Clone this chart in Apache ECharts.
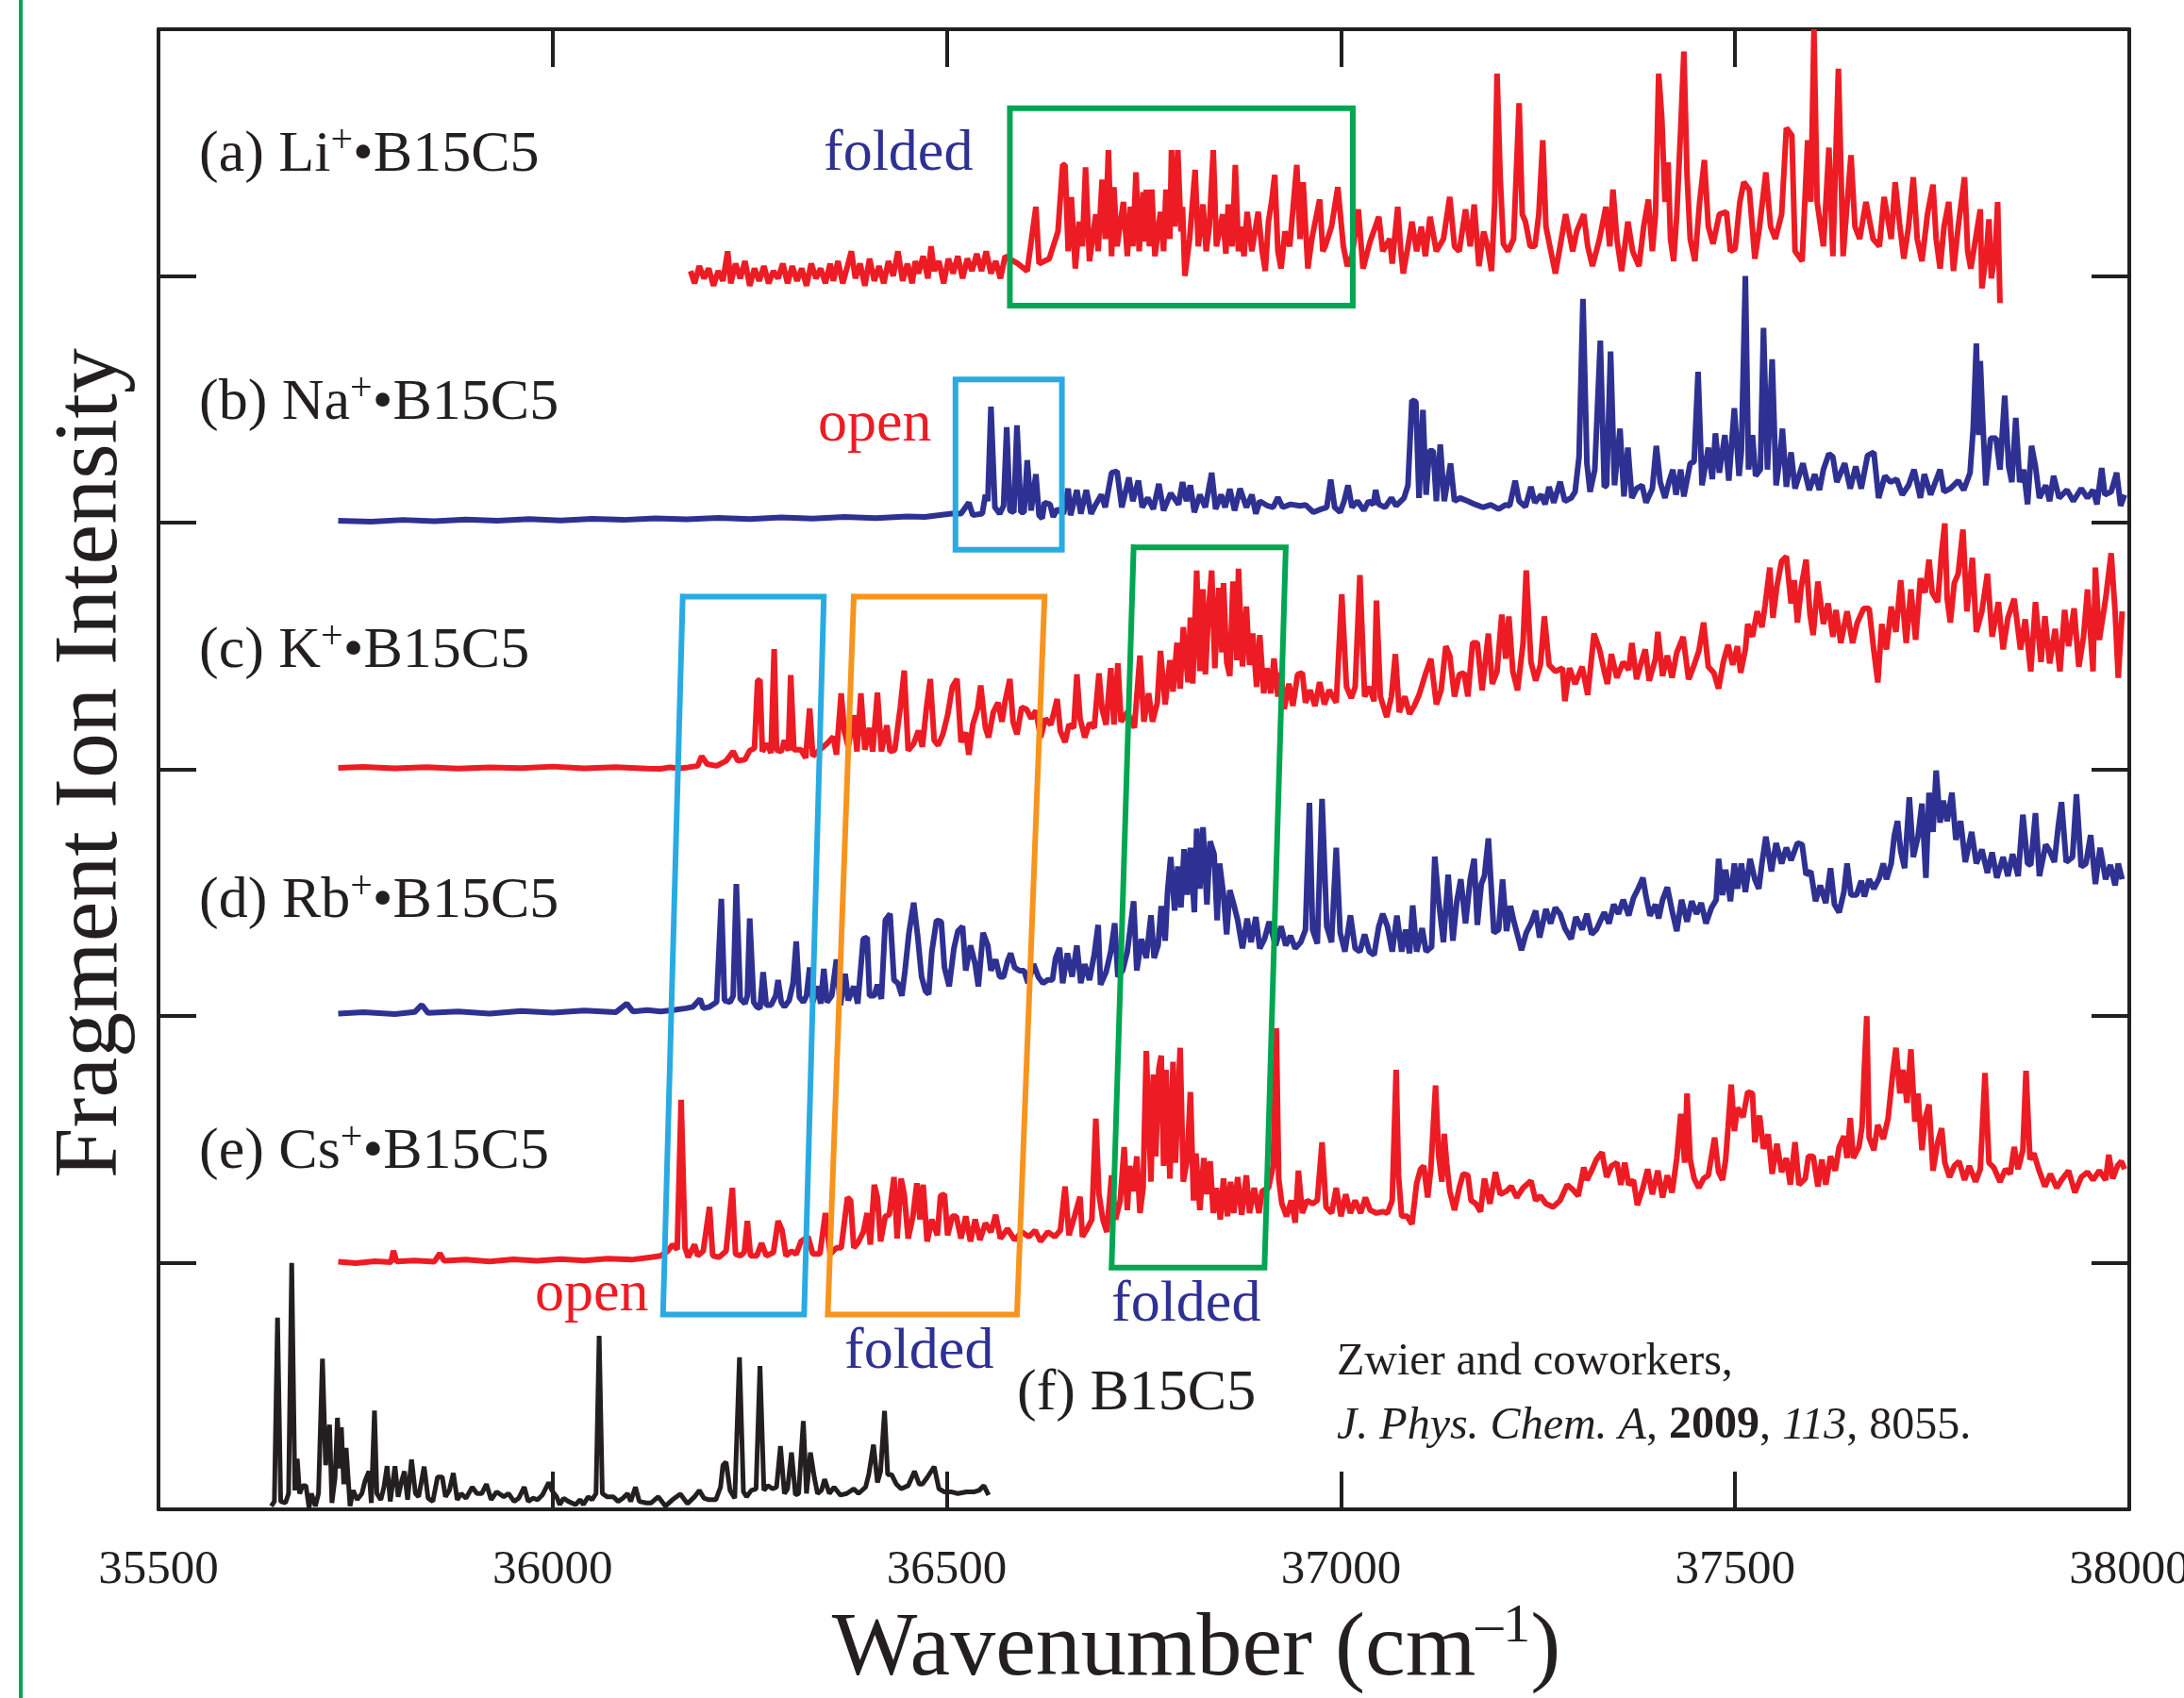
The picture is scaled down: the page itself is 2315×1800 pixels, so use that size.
<!DOCTYPE html>
<html>
<head>
<meta charset="utf-8">
<title>B15C5 fragment ion spectra</title>
<script src="https://cdn.jsdelivr.net/npm/echarts@6/dist/echarts.min.js"></script>
<style>
  html, body { margin: 0; padding: 0; background: #fff; }
  #chart { width: 2315px; height: 1800px; }
</style>
</head>
<body>
<div id="chart"></div>
<script>
// [wavenumber cm-1, intensity]; 100 = one trace spacing
const liTrace = [
  [36175,2],[36180,-3],[36186,4],[36192,-1],[36198,3],[36204,-4],[36210,2],[36216,-2],[36222,10],[36226,-3],[36232,5],[36238,-1],
  [36244,6],[36250,-4],[36256,3],[36262,-2],[36268,4],[36274,-3],[36280,2],[36286,-1],[36292,5],[36298,-3],[36304,4],[36310,-2],
  [36316,3],[36322,-4],[36328,5],[36334,-1],[36340,3],[36346,-3],[36352,5],[36356,-2],[36362,6],[36368,-3],[36374,4],[36379,10],
  [36384,-1],[36390,5],[36396,-4],[36402,7],[36408,-2],[36414,4],[36420,-3],[36426,6],[36432,0],[36438,10],[36444,-2],[36450,5],
  [36456,-3],[36460,6],[36464,1],[36470,8],[36476,-1],[36480,12],[36484,2],[36490,6],[36496,-3],[36502,7],[36508,1],[36514,8],
  [36520,-1],[36526,7],[36532,2],[36538,9],[36544,2],[36550,10],[36556,1],[36562,6],[36568,-1],[36574,8],
  [36590,5],[36602,2],[36613,28],[36617,5],[36630,7],[36641,18],[36647,45],[36650,45],[36654,10],[36658,32],[36663,3],[36668,22],
  [36672,12],[36676,44],[36681,6],[36689,25],[36692,10],[36697,39],[36701,15],[36705,51],[36709,8],[36712,36],[36716,12],[36724,30],
  [36729,8],[36733,28],[36736,12],[36740,42],[36744,10],[36749,34],[36751,14],[36753,35],[36757,12],[36760,35],[36764,8],[36771,26],
  [36775,10],[36778,35],[36783,15],[36785,51],[36789,20],[36793,51],[36797,18],[36799,28],[36802,0],[36808,15],[36815,43],[36819,12],
  [36825,29],[36829,10],[36833,20],[36838,51],[36842,12],[36850,25],[36854,9],[36857,29],[36862,12],[36866,45],[36870,10],[36873,20],
  [36877,8],[36881,26],[36887,10],[36895,26],[36900,10],[36904,2],[36908,22],[36912,30],[36916,41],[36920,10],[36924,3],[36929,18],
  [36935,12],[36944,45],[36948,15],[36952,38],[36958,3],[36963,15],[36973,31],[36977,10],[36980,12],[36988,20],[36996,36],[37003,12],
  [37008,4],[37014,8],[37022,27],[37028,3],[37037,14],[37048,24],[37053,10],[37062,15],[37065,5],[37072,28],[37076,10],[37079,1],
  [37085,12],[37090,22],[37096,10],[37102,20],[37107,8],[37113,24],[37121,10],[37130,15],[37138,32],[37144,12],[37150,10],[37158,27],
  [37164,12],[37169,29],[37175,4],[37181,18],[37186,12],[37191,2],[37195,30],[37198,82],[37202,40],[37206,13],[37212,10],[37219,15],
  [37226,70],[37230,25],[37234,22],[37240,12],[37246,12],[37251,25],[37256,55],[37260,20],[37265,12],[37272,1],[37278,12],[37285,25],
  [37294,10],[37299,18],[37308,25],[37313,12],[37319,4],[37328,15],[37336,28],[37341,12],[37345,35],[37350,15],[37356,2],[37364,22],
  [37370,10],[37378,4],[37384,20],[37390,31],[37395,10],[37399,25],[37403,82],[37407,64],[37411,30],[37415,46],[37418,15],[37422,6],
  [37426,25],[37431,60],[37435,91],[37439,41],[37443,15],[37449,6],[37455,30],[37461,47],[37466,20],[37472,13],[37480,25],[37489,26],
  [37494,10],[37500,11],[37506,30],[37511,38],[37518,35],[37525,7],[37531,20],[37539,42],[37545,20],[37551,15],[37559,25],[37565,60],
  [37572,57],[37576,10],[37585,6],[37592,55],[37596,30],[37600,100],[37604,30],[37612,12],[37619,52],[37624,8],[37631,84],[37637,8],
  [37641,25],[37647,49],[37652,20],[37658,15],[37666,30],[37675,15],[37683,12],[37689,32],[37698,15],[37703,38],[37709,20],[37714,7],
  [37720,20],[37726,40],[37731,15],[37737,6],[37744,25],[37751,37],[37755,15],[37760,3],[37765,20],[37771,30],[37777,2],[37783,20],
  [37791,40],[37795,10],[37799,3],[37805,15],[37811,27],[37813,-5],[37819,10],[37822,23],[37825,-1],[37830,10],[37833,30],[37836,-11]
];

const naTrace = [
  [35728,0.8],[35770,0.4],[35810,1.1],[35850,0.6],[35890,1.2],[35930,0.8],[35970,1.4],[36010,0.9],[36050,1.5],[36090,1.1],
  [36130,1.7],[36170,1.3],[36210,1.9],[36250,1.4],[36290,2.1],[36330,1.6],[36370,2.3],[36410,1.8],[36450,2.5],
  [36472,2.3],[36506,3.6],[36518,3.6],[36528,8.1],[36533,3],[36545,3.6],[36549,11.3],[36552,8.7],[36556,47],[36561,6.2],[36567,3.6],
  [36572,6.8],[36576,38.7],[36580,4.9],[36585,4.2],[36589,39.4],[36594,4.2],[36598,4.2],[36602,25.3],[36607,4.9],[36613,19.6],
  [36617,3],[36621,1.7],[36624,8.1],[36631,7.4],[36635,2.3],[36640,5.5],[36648,3.6],[36654,13.8],[36657,3],[36665,13.2],[36670,3.6],
  [36677,13.2],[36683,3.6],[36689,7.4],[36696,11.3],[36701,6.2],[36709,20.2],[36716,20.8],[36722,6.2],[36731,18.3],[36736,8.7],
  [36743,17],[36748,6.2],[36755,10],[36762,5.5],[36769,15.7],[36775,4.9],[36784,11.9],[36794,7.4],[36799,16.4],[36804,8.7],
  [36809,15.1],[36814,4.2],[36821,11.3],[36828,6.2],[36836,20.2],[36841,5.5],[36848,11.3],[36853,6.2],[36859,13.6],[36865,4.9],
  [36872,13.8],[36880,6.2],[36887,11.3],[36892,3.6],[36897,8.7],[36907,6.8],[36914,6.2],[36920,10.2],[36926,6.2],[36936,7.4],
  [36948,6.8],[36955,7.2],[36965,4.2],[36975,5.5],[36982,6.2],[36987,17.4],[36992,6.2],[36999,4.2],[37004,8.7],[37009,15.1],
  [37014,6.2],[37021,8.7],[37029,4.9],[37035,8.7],[37041,7.4],[37044,13.2],[37048,7.4],[37056,6.2],[37064,10],[37070,6.8],
  [37080,10],[37085,15.1],[37090,49.6],[37095,49],[37099,10],[37104,45.7],[37108,11.3],[37112,29.1],[37117,29.1],[37121,8.7],
  [37126,31.7],[37131,8.7],[37139,24],[37144,8.7],[37151,10],[37161,8.7],[37170,7.4],[37180,6.2],[37190,7.2],[37200,5.5],[37209,7.2],
  [37214,6.8],[37221,17],[37226,8.7],[37234,6.4],[37241,14.5],[37246,8.1],[37254,11.3],[37259,7.4],[37264,14.5],[37270,8.1],
  [37278,16.6],[37284,8.7],[37292,10],[37297,12.5],[37302,26.6],[37307,90.7],[37312,24],[37316,12.5],[37322,21.5],[37329,73.8],
  [37334,14.5],[37337,15.1],[37342,69.4],[37347,15.1],[37354,38.1],[37359,10.6],[37364,30.4],[37369,10],[37375,13.8],[37382,15.1],
  [37387,8.1],[37395,13.8],[37400,31.1],[37405,16.4],[37411,10],[37416,16.4],[37421,21.5],[37425,11.3],[37431,21.5],[37435,10.6],
  [37443,24],[37448,24.7],[37453,61.1],[37458,15.1],[37466,30.4],[37471,17.6],[37475,36.2],[37480,20.2],[37487,35.5],[37492,17],
  [37499,46.4],[37505,18.9],[37508,29.1],[37513,100],[37517,21.5],[37522,35.5],[37526,18.9],[37532,21.5],[37536,78.9],[37541,21.5],
  [37547,66.2],[37552,15.1],[37557,26.6],[37560,38.1],[37565,14.5],[37571,28.5],[37576,13.8],[37586,24],[37594,13.2],[37601,19.6],
  [37607,13.2],[37612,21.5],[37619,27.9],[37624,26.6],[37629,16.4],[37639,24],[37646,13.8],[37653,22.8],[37660,13.8],[37668,27.2],
  [37676,28.5],[37682,10],[37690,18.9],[37697,16.4],[37705,17.6],[37712,11.3],[37720,15.1],[37727,21.5],[37735,10],[37740,19.6],
  [37748,11.3],[37760,21.5],[37765,12.5],[37773,13.8],[37783,17],[37790,13.2],[37798,20.2],[37802,38.1],[37806,72.6],[37809,35.5],
  [37811,65.5],[37814,41.9],[37818,15.1],[37824,34.2],[37831,34.2],[37836,21.5],[37842,51.5],[37847,22.8],[37851,16.4],[37856,42.5],
  [37861,16.4],[37866,21.5],[37871,7.4],[37876,31.1],[37881,22.8],[37886,10],[37894,15.1],[37899,8.7],[37904,18.9],[37911,10],
  [37921,13.2],[37929,8.7],[37939,13.8],[37947,10],[37954,13.2],[37959,7.4],[37965,22.1],[37969,11.3],[37977,12.5],[37984,20.2],
  [37989,6.8],[37994,11.3]
];

const kTrace = [
  [35728,0.6],[35760,1.0],[35800,0.4],[35840,0.9],[35880,0.3],[35920,0.8],[35960,0.5],[36000,1.1],[36040,0.4],[36080,0.9],[36120,0.3],
  [36137,0.2],[36149,0.8],[36161,0.4],[36172,0.8],[36184,1.4],[36189,5.3],[36196,2.1],[36208,1.4],[36220,3.4],[36229,7.2],[36235,3.4],
  [36244,4],[36250,7.6],[36256,8.5],[36260,35.9],[36263,36.2],[36266,7.2],[36272,10.4],[36277,6.6],[36281,48.7],[36284,7.9],[36290,7.2],
  [36294,11.7],[36299,7.6],[36302,38.2],[36306,7.9],[36315,7.9],[36321,4.6],[36326,24.7],[36330,5.3],[36339,7.9],[36348,10.4],
  [36356,13.2],[36360,5.9],[36366,30.8],[36370,15.5],[36375,9.1],[36382,21.9],[36386,7.2],[36391,30.8],[36396,7.9],[36402,16.8],
  [36406,7.2],[36412,31.1],[36417,7.2],[36424,17.8],[36428,7.2],[36434,7.9],[36441,25.1],[36446,40],[36451,7.6],[36458,10.4],
  [36464,15.7],[36469,9.1],[36474,24.4],[36479,36.6],[36484,11.7],[36489,9.7],[36495,14.2],[36501,21.9],[36507,33.4],[36513,36.6],
  [36518,11],[36524,14.9],[36528,5.9],[36533,18.1],[36539,24.4],[36543,34],[36549,16.8],[36553,12.9],[36559,23.2],[36565,27],
  [36570,19.3],[36574,27.6],[36580,36.6],[36584,19.3],[36589,14.2],[36595,25.1],[36601,24.4],[36607,20.6],[36613,23.8],[36619,12.9],
  [36625,20.6],[36632,18.1],[36640,28.5],[36644,15.5],[36650,11],[36655,18.1],[36661,16.8],[36665,38.5],[36669,20.6],[36675,12.9],
  [36681,18.7],[36687,16.8],[36693,38.9],[36697,24.4],[36702,18.1],[36708,41],[36712,18.1],[36717,43],[36721,19.3],[36729,23.2],
  [36738,16.8],[36745,46.1],[36750,19.3],[36756,30.8],[36761,19.3],[36767,27],[36771,48],[36777,26.3],[36783,44.2],[36787,31.5],
  [36792,51.3],[36796,32.7],[36800,57.6],[36806,35.3],[36809,61.5],[36812,34.7],[36817,80.6],[36821,39.8],[36825,73],[36828,38.5],
  [36832,64],[36836,80.6],[36840,41],[36845,73.6],[36849,47.4],[36851,75.5],[36855,43.6],[36859,37.8],[36863,76.2],[36868,44.2],
  [36870,81.3],[36875,41.7],[36880,66],[36884,42.3],[36888,55.1],[36893,33.4],[36897,54.4],[36902,30.8],[36906,41],[36911,30.8],
  [36915,44.9],[36920,29.5],[36924,39.1],[36928,24.4],[36934,34.7],[36939,25.7],[36945,38.5],[36951,39.1],[36955,27],[36961,32.1],
  [36967,25.7],[36973,35.3],[36979,26.3],[36985,32.1],[36994,27],[37001,71],[37007,33.4],[37013,28.9],[37018,33.4],[37024,78.7],
  [37030,29.5],[37036,33.4],[37042,27.6],[37045,68.4],[37050,29.5],[37058,21.2],[37064,29.5],[37069,46.7],[37074,23.1],[37081,29.5],
  [37087,22.5],[37093,25.7],[37099,30.1],[37107,38.4],[37114,44.8],[37121,26.3],[37127,32],[37133,49.9],[37138,46.1],[37144,29.5],
  [37150,38.4],[37156,39.1],[37161,29.5],[37167,51.2],[37173,51.2],[37179,32],[37187,55],[37192,34.6],[37198,39.7],[37204,62.7],
  [37209,44.8],[37213,62],[37218,39.7],[37224,32],[37231,51.2],[37235,80.6],[37241,43.5],[37247,35.9],[37253,42.3],[37258,62],
  [37264,42.3],[37272,39.7],[37281,41],[37284,27.6],[37290,41],[37297,34.6],[37306,41.6],[37313,30.1],[37321,55],[37328,48.6],
  [37334,39.7],[37338,34.6],[37343,46.7],[37350,37.1],[37358,43.5],[37365,40.3],[37369,51.2],[37375,36.5],[37380,42.3],[37386,48.6],
  [37391,35.9],[37399,44.8],[37402,55.7],[37408,37.8],[37414,46.1],[37420,37.1],[37426,47.4],[37434,53.7],[37441,36.5],[37448,42.3],
  [37454,48],[37460,59.5],[37466,41.6],[37473,39.1],[37479,32.7],[37485,43.5],[37491,50.5],[37497,42.3],[37503,49.9],[37507,39.1],
  [37513,48.6],[37516,58.9],[37522,53.7],[37528,64],[37534,57.6],[37538,66.5],[37544,81.8],[37548,61.4],[37553,74.2],[37559,84.4],
  [37565,86.3],[37571,67.2],[37575,76.7],[37579,59.5],[37584,74.2],[37590,85],[37595,62.7],[37599,54.4],[37605,76.1],[37612,58.9],
  [37618,67.2],[37624,53.7],[37628,64.6],[37634,51.2],[37642,64],[37649,51.2],[37655,59.5],[37663,65.2],[37670,65.2],[37676,48],
  [37681,35.2],[37686,58.9],[37692,48.6],[37698,65.9],[37704,55.7],[37710,76.7],[37717,51.2],[37723,72.9],[37729,52.5],[37735,77.4],
  [37741,71.6],[37746,85],[37750,71.6],[37757,67.8],[37762,88.2],[37766,99.7],[37769,69.1],[37773,59.5],[37778,75.5],[37783,79.3],
  [37789,97.2],[37794,64],[37801,85.7],[37806,55.7],[37813,64],[37820,79.3],[37826,53.7],[37834,67.8],[37840,48.6],[37846,61.4],
  [37854,69.1],[37862,48.6],[37868,60.8],[37875,39.7],[37881,67.8],[37888,43.5],[37893,62],[37899,42.9],[37906,56.9],[37912,39.7],
  [37918,64.6],[37923,49.9],[37930,65.2],[37936,41.6],[37942,53.7],[37947,72.9],[37954,39.7],[37957,81.8],[37962,52.5],[37970,69.1],
  [37977,87.6],[37982,64],[37986,37.1],[37991,64]
];

const rbTrace = [
  [35728,1],[35760,1.5],[35800,0.8],[35825,1.6],[35834,4.5],[35842,1.2],[35880,1.8],[35920,1],[35960,2],[36000,1.3],[36040,2.2],
  [36080,1.5],[36094,5],[36102,1.8],[36120,2.4],
  [36137,1.8],[36155,2.5],[36169,3.1],[36178,3.7],[36187,6.9],[36191,3.1],[36199,3.7],[36208,5.6],[36214,47.5],[36218,6.3],[36225,5.6],
  [36229,8.2],[36233,53.5],[36238,6.9],[36244,5],[36247,8.2],[36250,39.5],[36255,5.6],[36259,3.7],[36263,3.1],[36267,17.8],[36271,4.4],
  [36277,4.4],[36283,8.2],[36286,14.6],[36290,5.6],[36294,3.7],[36300,6.3],[36305,13.3],[36309,30.2],[36313,7.6],[36318,5.6],[36322,8.2],
  [36326,19.7],[36330,5.6],[36336,12],[36340,5],[36344,19.1],[36348,5.6],[36354,8.2],[36360,22.9],[36365,4.4],[36371,17.1],[36375,6.3],
  [36382,12],[36387,5],[36394,31.2],[36399,31.8],[36402,8.2],[36408,8.2],[36412,12.7],[36417,6.9],[36422,38.8],[36428,41.4],[36433,14.6],
  [36438,13.3],[36443,8.2],[36447,18.4],[36452,33.7],[36458,45.9],[36463,32.5],[36468,15.9],[36473,10.1],[36477,8.8],[36481,26.1],
  [36487,38.8],[36493,38.2],[36497,19.7],[36503,12],[36509,27.4],[36514,34.4],[36520,36.3],[36524,18.4],[36530,28.6],[36536,21],
  [36540,12],[36546,33.7],[36552,28.6],[36556,18.4],[36562,22.9],[36567,15.9],[36572,15.9],[36577,22.2],[36581,25.4],[36586,19.7],
  [36592,18.4],[36598,18.4],[36603,13.3],[36610,21],[36616,15.9],[36622,13.3],[36628,14.6],[36634,14.6],[36638,23.5],[36643,27.6],
  [36647,13.3],[36653,25.4],[36659,15.9],[36665,28.6],[36670,13.3],[36675,21],[36681,14.6],[36687,24.8],[36692,36.9],[36695,12.7],
  [36702,17.8],[36708,26.1],[36713,37.6],[36717,15.9],[36723,18.4],[36729,26.1],[36737,46.5],[36741,18.4],[36747,31.2],[36753,23.5],
  [36759,40.8],[36763,23.5],[36768,28.6],[36772,44.6],[36777,30.5],[36780,50.3],[36784,64.4],[36789,42.7],[36793,60.6],[36797,44],
  [36801,67.6],[36805,49.1],[36809,68.2],[36814,42],[36817,75.9],[36821,51.6],[36825,76.5],[36830,45.2],[36834,70.8],[36839,65.7],
  [36843,38.8],[36846,61.8],[36851,49.1],[36855,33.1],[36859,51],[36864,45.2],[36869,38.8],[36875,27.4],[36881,39.5],[36886,29.9],
  [36892,40.1],[36897,27.4],[36903,31.2],[36909,38.2],[36917,28.6],[36924,36.3],[36930,28.6],[36936,32.5],[36942,27.4],[36949,29.9],
  [36955,35],[36960,86.4],[36964,35],[36970,29.3],[36976,88],[36982,36.3],[36988,29.9],[36994,68.2],[36999,33.7],[37005,26.1],
  [37012,40.8],[37018,27.4],[37024,26.1],[37030,33.1],[37036,26.1],[37042,24.8],[37048,36.3],[37053,41.4],[37059,36.3],
  [37065,26.1],[37071,40.7],[37077,26.1],[37082,35],[37087,25.4],[37091,44.8],[37096,26.1],[37103,35.6],[37108,26.1],[37115,28],
  [37119,64.6],[37124,46.5],[37130,29.9],[37136,57.3],[37142,30.5],[37147,46.5],[37152,55.4],[37158,37.5],[37164,55.4],[37169,63.7],
  [37173,36.9],[37178,53.5],[37182,56.7],[37187,72],[37194,33.7],[37200,35],[37205,55.4],[37210,34.4],[37215,44.6],[37219,38.8],
  [37229,26.7],[37235,33.7],[37241,37.5],[37247,42.7],[37252,31.8],[37260,43.3],[37266,37.5],[37272,43.9],[37278,41.4],[37284,35.6],
  [37292,31.2],[37298,40.1],[37306,35],[37312,41.4],[37318,33.1],[37324,35],[37334,42],[37340,37.5],[37346,45.2],[37352,41.4],
  [37358,47.1],[37365,40.7],[37371,47.8],[37377,51.6],[37383,56],[37387,48.4],[37392,40.7],[37399,45.2],[37403,39.5],[37408,47.1],
  [37414,52.2],[37420,42.7],[37426,34.4],[37432,47.1],[37439,38.2],[37445,46.5],[37451,41.4],[37457,45.8],[37463,37.5],[37470,43.9],
  [37476,47.1],[37479,63.7],[37484,49],[37488,59.3],[37494,46.5],[37499,61.8],[37503,51.6],[37508,61.8],[37513,50.3],[37519,63.7],
  [37525,55.4],[37530,51.6],[37534,61.8],[37539,72.7],[37546,58.6],[37552,70.1],[37559,61.8],[37565,68.2],[37571,63.1],[37579,70.1],
  [37585,69.5],[37590,57.3],[37596,58.6],[37602,46.5],[37608,52.9],[37615,45.8],[37621,59.9],[37626,45.2],[37632,42],[37638,50.3],
  [37642,61.8],[37647,49],[37654,49],[37660,54.8],[37664,48.4],[37670,55.4],[37676,51.6],[37683,56],[37688,61.8],[37692,55.4],
  [37698,61.8],[37702,73.3],[37706,79],[37710,66.9],[37715,59.9],[37721,88.6],[37726,64.4],[37732,72.7],[37737,86.1],[37742,56],
  [37746,90.5],[37751,74.6],[37755,99.5],[37760,78.4],[37764,87.3],[37769,79],[37775,90.5],[37780,71.4],[37786,79],[37792,62.4],
  [37800,74.6],[37806,61.8],[37813,67.5],[37820,58],[37826,66.3],[37832,56],[37840,64.4],[37846,56.7],[37852,65.6],[37859,56.7],
  [37865,81.6],[37871,61.8],[37875,61.2],[37881,82.2],[37886,56.7],[37894,69.5],[37899,66.9],[37905,62.4],[37910,77.1],[37914,86.7],
  [37920,62.4],[37928,64.4],[37933,89.9],[37939,60.5],[37945,61.8],[37951,73.3],[37957,53.5],[37963,68.2],[37970,55.4],[37976,61.2],
  [37982,52.9],[37986,61.8],[37991,55.4]
];

const csTrace = [
  [35728,0.4],[35750,-0.2],[35775,0.6],[35795,0.2],[35798,4.8],[35802,0.5],[35825,0.9],[35850,0.4],[35857,3.8],[35862,0.8],[35890,1.2],
  [35920,0.5],[35950,1.3],[35980,0.8],[36010,1.4],[36040,0.9],[36070,1.6],[36100,1.2],[36125,2.2],
  [36137,2.8],[36146,4.7],[36152,7.3],[36158,5.4],[36163,66],[36168,6],[36172,2.2],[36180,7.3],[36184,2.8],[36191,4.7],[36199,22.6],
  [36203,2.8],[36211,2.2],[36220,4.7],[36228,30.3],[36232,3.5],[36238,2.8],[36243,4.1],[36247,16.9],[36251,2.8],[36259,2.8],[36265,7.9],
  [36271,2.8],[36280,4.1],[36286,16.9],[36291,13.1],[36296,2.8],[36303,4.7],[36309,3.5],[36315,8.6],[36324,10.5],[36330,3.5],[36339,3.5],
  [36346,20.1],[36352,3.5],[36360,6],[36366,6],[36374,26.4],[36378,25.2],[36382,6],[36387,7.9],[36394,12.4],[36399,20.1],[36403,7.3],
  [36408,31.6],[36412,26.4],[36416,8.6],[36422,18.8],[36427,19.4],[36433,34.7],[36437,9.8],[36442,34.1],[36446,27.7],[36451,9.8],
  [36457,18.8],[36462,32.2],[36466,17.5],[36470,31.6],[36475,8.6],[36481,17.5],[36488,11.1],[36492,27.1],[36497,27.7],[36501,11.1],
  [36507,18.8],[36512,18.8],[36518,9.8],[36524,18.8],[36530,8.6],[36536,17.5],[36542,9.2],[36549,16],[36556,12.4],[36562,19.4],
  [36568,9.8],[36577,13.7],[36586,9.2],[36595,12.4],[36604,10.5],[36612,13.1],[36619,8.6],[36628,12.4],[36637,10.5],[36644,13.1],
  [36650,30.9],[36655,11.1],[36662,18.8],[36669,26.7],[36672,10.5],[36678,13.7],[36684,17.5],[36689,58.4],[36693,27.7],[36698,17.5],
  [36703,12.4],[36709,35.4],[36714,17.5],[36720,25.2],[36725,46.9],[36729,21.3],[36732,39.2],[36737,29],[36741,43.1],[36745,20.1],
  [36749,30.3],[36753,85.8],[36759,32.8],[36762,76.3],[36765,43.1],[36769,78.8],[36772,83.9],[36775,39.2],[36778,78.2],[36783,34.1],
  [36787,81.4],[36790,40.5],[36796,87.1],[36800,32.8],[36805,41.8],[36809,69.2],[36813,25.2],[36816,44.3],[36821,21.3],[36826,42.4],
  [36830,27.7],[36834,41.1],[36838,20.1],[36842,30.3],[36847,17.5],[36851,34.1],[36856,18.8],[36860,32.8],[36864,20.1],[36869,34.7],
  [36874,19.4],[36880,35.4],[36884,20.1],[36890,30.3],[36896,20.1],[36900,29],[36908,30.3],[36914,39.2],[36918,95],[36921,34.1],
  [36925,23.9],[36931,18.8],[36937,25.2],[36942,16.2],[36946,37.3],[36951,20.1],[36957,25.2],[36964,23.9],[36970,25.2],[36976,48.8],
  [36981,22.6],[36988,20.1],[36994,30.3],[37000,18.8],[37006,27.7],[37012,20.1],[37018,25.2],[37025,20.1],[37031,26.4],[37037,21.3],
  [37045,20.1],[37053,20.7],[37059,20.1],[37065,25.2],[37070,78.2],[37073,35.4],[37077,18.8],[37084,18.8],[37090,15.6],[37096,32.2],
  [37101,37.9],[37105,39.2],[37110,26.4],[37114,37.9],[37120,71.8],[37124,43.1],[37128,32.8],[37131,52.2],[37134,40.5],[37138,29],
  [37144,21.3],[37150,30.3],[37155,36],[37161,35.4],[37165,25.2],[37171,23.9],[37177,20.7],[37182,34.1],[37189,23.9],[37196,36.7],
  [37202,27.7],[37210,29],[37216,30.9],[37223,26.4],[37231,30.3],[37241,33.2],[37247,25.2],[37253,27.1],[37260,23.9],[37269,22.6],
  [37278,25.2],[37287,31.6],[37294,29.6],[37301,27.1],[37308,38.6],[37312,33.5],[37318,37.3],[37324,41.8],[37331,44.7],[37337,34.7],
  [37343,39.2],[37350,40.5],[37355,31.6],[37360,40.5],[37365,31.6],[37371,33.5],[37376,23.3],[37383,30.3],[37389,37.9],[37395,27.7],
  [37402,37.3],[37408,26.4],[37414,35.4],[37420,28.4],[37426,42.4],[37431,60.3],[37436,40.5],[37439,68.6],[37443,41.8],[37448,34.1],
  [37454,30.3],[37460,34.1],[37466,35.4],[37474,50.7],[37479,36.7],[37484,33.5],[37488,41.8],[37491,54.5],[37495,72.2],[37499,53.3],
  [37503,62.8],[37510,59],[37516,69.2],[37522,68.6],[37525,48.8],[37531,59.6],[37536,46.2],[37542,52],[37547,36],[37553,48.2],
  [37559,36.7],[37565,42.4],[37570,31.6],[37576,48.8],[37581,31.6],[37589,34.1],[37593,43.1],[37599,43.1],[37605,30.9],[37610,41.8],
  [37615,31.6],[37621,43.1],[37627,37.3],[37632,46.9],[37638,51.3],[37642,42.4],[37646,58.6],[37650,42.4],[37657,46.9],[37661,55.2],
  [37664,79.4],[37667,99.9],[37670,50.7],[37676,45.6],[37681,55.8],[37688,50.1],[37694,58.4],[37700,76.9],[37704,87.1],[37709,68.6],
  [37713,78.2],[37718,64.8],[37723,86.5],[37728,57.1],[37732,68.6],[37737,45.6],[37741,58.4],[37746,64.1],[37751,37.3],[37757,48.8],
  [37762,54.5],[37766,40.5],[37772,34.7],[37778,39.2],[37784,41.1],[37791,33.5],[37797,39.2],[37805,32.8],[37811,37.9],[37817,76.9],
  [37822,40.5],[37828,38.6],[37836,32.8],[37843,37.9],[37849,36],[37854,46.9],[37859,37.9],[37865,45.6],[37869,77.8],[37874,41.8],
  [37879,44.3],[37885,37.9],[37893,30.9],[37900,36],[37908,30.3],[37914,33.5],[37923,37.3],[37931,28.4],[37939,34.7],[37947,36.7],
  [37954,33.5],[37962,37.3],[37970,33.5],[37974,43.7],[37979,34.1],[37985,39.2],[37990,41.1],[37994,37.9]
];

const freeTrace = [
  [35643,1.3],[35647,3.2],[35651,77.7],[35655,3.2],[35661,2.6],[35665,6.4],[35669,99.9],[35673,7.7],[35676,20.5],[35679,6.4],
  [35683,9.6],[35687,9.6],[35691,0.7],[35694,6.4],[35699,1.3],[35703,6.4],[35708,61.1],[35712,17.9],[35717,34.3],[35720,2.6],
  [35724,12.8],[35727,37.1],[35730,16.6],[35732,33.2],[35735,10.2],[35738,24.9],[35743,1.3],[35747,7.7],[35752,3.9],[35758,6.4],
  [35762,11.5],[35767,15.4],[35770,2.6],[35774,40],[35777,6.4],[35782,3.9],[35786,9],[35790,17.5],[35794,3.2],[35800,17.5],
  [35804,5.1],[35809,12.2],[35812,15.4],[35816,3.9],[35821,20.2],[35826,6.4],[35830,5.1],[35837,17.3],[35842,4.5],[35848,3.2],
  [35854,13.1],[35860,13.1],[35864,5.1],[35869,7.7],[35874,14.7],[35879,3.9],[35884,6.4],[35890,4.5],[35898,9],[35904,6.4],
  [35910,6.4],[35916,10.2],[35922,3.9],[35929,7.1],[35938,5.1],[35944,6.4],[35951,3.2],[35957,4.5],[35964,9],[35969,3.2],
  [35975,4.5],[35981,3.9],[35987,5.8],[35995,10.9],[35999,7.7],[36005,5.1],[36009,1.9],[36014,4.5],[36020,3.2],[36029,1.9],
  [36035,3.9],[36039,1.9],[36045,5.1],[36050,3.9],[36055,6.4],[36059,70.3],[36063,6.4],[36069,5.1],[36077,5.1],[36083,3.2],
  [36089,4.5],[36095,6.4],[36099,3.2],[36105,9],[36110,3.2],[36119,2.6],[36125,2.6],[36134,5.1],[36143,1.3],[36152,3.9],
  [36162,6.2],[36171,2.3],[36180,5.1],[36186,7.7],[36192,4.5],[36198,3.9],[36207,3.9],[36213,9],[36216,17.9],[36220,19.2],
  [36225,7.7],[36231,4.5],[36237,61.6],[36242,7.1],[36246,5.1],[36252,7.7],[36258,8.3],[36263,58.1],[36268,7.7],[36273,9.6],
  [36279,8.3],[36284,9],[36289,25.6],[36294,6.4],[36298,8.3],[36303,23],[36308,5.8],[36312,6.4],[36318,35.8],[36322,6.4],
  [36327,23],[36332,12.8],[36336,6.4],[36341,7.7],[36345,12.2],[36351,6.4],[36357,9],[36365,5.8],[36373,6.4],[36382,8.3],
  [36388,6.4],[36397,9],[36401,14.1],[36407,26.2],[36412,10.9],[36416,15.4],[36421,39.9],[36425,14.1],[36430,14.1],[36436,10.2],
  [36442,8.3],[36451,9.6],[36459,15.4],[36465,10.2],[36469,10.2],[36475,12.8],[36484,17.3],[36490,8.3],[36497,7.1],[36505,7.1],
  [36514,6.4],[36525,7.1],[36535,7.1],[36541,7.7],[36547,9.6],[36553,5.8]
];

const traceOffsets = [500, 400, 300, 200, 100, 0];

// marked regions, [wavenumber, stacked intensity]
const liFoldedBox = [[36580,568],[37015,568],[37015,488],[36580,488],[36580,568]];
const naOpenBox = [[36511,458],[36646,458],[36646,389],[36511,389],[36511,458]];
const openBand = [[36165,370],[36344,370],[36319,79],[36140,79],[36165,370]];
const foldedBand = [[36382,370],[36624,370],[36589,79],[36349,79],[36382,370]];
const greenBand = [[36737,390],[36930,390],[36903,98],[36709,98],[36737,390]];

const xRange = [35500, 38000];
const xStep = 500;
const yRange = [0, 600];
const yStep = 100;

const ink = '#231f20';
const red = '#ed1c24';
const blue = '#2e3192';
const green = '#00a651';
const cyan = '#29abe2';
const orange = '#f7941d';
const serif = '"Liberation Serif", "DejaVu Serif", serif';

function shift(trace, off) {
  return trace.map(p => [p[0], p[1] + off]);
}

const traceSeries = [
  [liTrace, red], [naTrace, blue], [kTrace, red], [rbTrace, blue], [csTrace, red], [freeTrace, ink]
].map(([trace, color], i) => ({
  type: 'line',
  data: shift(trace, traceOffsets[i]),
  symbol: 'none',
  silent: true,
  z: 2,
  lineStyle: {color: color, width: i === 5 ? 5 : 6}
}));

const boxSeries = [
  [liFoldedBox, green], [naOpenBox, cyan], [openBand, cyan], [foldedBand, orange], [greenBand, green]
].map(([pts, color]) => ({
  type: 'line',
  data: pts,
  symbol: 'none',
  silent: true,
  z: 3,
  lineStyle: {color: color, width: 6, cap: 'square', join: 'miter'}
}));

const axisBase = {
  type: 'value',
  axisLine: {onZero: false, lineStyle: {color: ink, width: 4}},
  axisTick: {inside: true, length: 40, lineStyle: {color: ink, width: 4}},
  splitLine: {show: false}
};

const labelRich = {
  n: {fontFamily: serif, fontSize: 62, lineHeight: 62, fill: ink, verticalAlign: 'bottom'},
  s: {fontFamily: serif, fontSize: 42, lineHeight: 42, padding: [0, 0, 25, 0], fill: ink, verticalAlign: 'bottom'}
};

function txt(x, y, text, extra) {
  return {
    type: 'text', x: x, y: y, silent: true, z: 10,
    style: Object.assign({
      text: text, fill: ink, fontFamily: serif, fontSize: 62,
      align: 'left', verticalAlign: 'middle'
    }, extra)
  };
}

const graphics = [
  {type: 'rect', silent: true, shape: {x: 20, y: 0, width: 4, height: 1800}, style: {fill: green}},
  txt(211, 165, '{n|(a) Li}{s|+}{n|•B15C5}', {rich: labelRich}),
  txt(211, 428, '{n|(b) Na}{s|+}{n|•B15C5}', {rich: labelRich}),
  txt(211, 691, '{n|(c) K}{s|+}{n|•B15C5}', {rich: labelRich}),
  txt(211, 956, '{n|(d) Rb}{s|+}{n|•B15C5}', {rich: labelRich}),
  txt(211, 1222, '{n|(e) Cs}{s|+}{n|•B15C5}', {rich: labelRich}),
  txt(1078, 1478, '(f) B15C5'),
  txt(873, 164, 'folded', {fill: blue}),
  txt(867, 451, 'open', {fill: red}),
  txt(567, 1373, 'open', {fill: red}),
  txt(895, 1434, 'folded', {fill: blue}),
  txt(1178, 1384, 'folded', {fill: blue}),
  txt(1417, 1444, 'Zwier and coworkers,', {fontSize: 48}),
  txt(1417, 1512, '{i|J. Phys. Chem. A}{n|, }{b|2009}{n|, }{i|113}{n|, 8055.}', {
    fontSize: 48,
    rich: {
      n: {fontFamily: serif, fontSize: 48, fill: ink},
      i: {fontFamily: serif, fontSize: 48, fontStyle: 'italic', fill: ink},
      b: {fontFamily: serif, fontSize: 48, fontWeight: 'bold', fill: ink}
    }
  }),
  txt(1268, 1750, '{n|Wavenumber (cm}{s|–1}{n|)}', {
    align: 'center',
    rich: {
      n: {fontFamily: serif, fontSize: 96, lineHeight: 96, fill: ink, verticalAlign: 'bottom'},
      s: {fontFamily: serif, fontSize: 58, lineHeight: 58, padding: [0, 0, 44, 0], fill: ink, verticalAlign: 'bottom'}
    }
  }),
  Object.assign(txt(98, 809, 'Fragment Ion Intensity', {fontSize: 96, align: 'center'}), {rotation: Math.PI / 2})
];

const chart = echarts.init(document.getElementById('chart'), null, {renderer: 'canvas'});
chart.setOption({
  animation: false,
  backgroundColor: '#fff',
  grid: {left: 168, right: 58, top: 31, bottom: 200, outerBoundsMode: 'none'},
  xAxis: [
    Object.assign({}, axisBase, {
      position: 'bottom', min: xRange[0], max: xRange[1], interval: xStep,
      axisLabel: {color: ink, fontFamily: serif, fontSize: 51, margin: 39, formatter: v => String(v)}
    }),
    Object.assign({}, axisBase, {
      position: 'top', min: xRange[0], max: xRange[1], interval: xStep,
      axisLabel: {show: false}
    })
  ],
  yAxis: [
    Object.assign({}, axisBase, {
      position: 'left', min: yRange[0], max: yRange[1], interval: yStep, axisLabel: {show: false}
    }),
    Object.assign({}, axisBase, {
      position: 'right', min: yRange[0], max: yRange[1], interval: yStep, axisLabel: {show: false}
    })
  ],
  series: traceSeries.concat(boxSeries),
  graphic: graphics
});
</script>
</body>
</html>
